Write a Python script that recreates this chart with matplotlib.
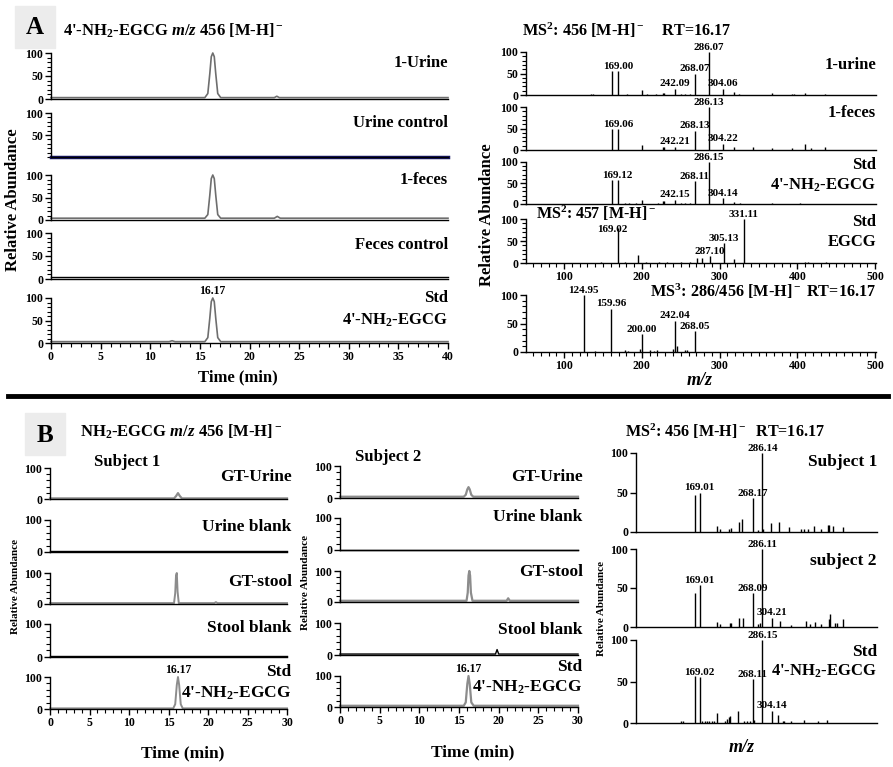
import numpy as np
import matplotlib.pyplot as plt
from matplotlib.lines import Line2D
from matplotlib.patches import Rectangle

plt.rcParams.update({
    'font.family': 'Liberation Serif',
    'font.weight': 'bold',
    'mathtext.fontset': 'custom',
    'mathtext.rm': 'Liberation Serif:bold',
    'mathtext.it': 'Liberation Serif:italic:bold',
    'mathtext.bf': 'Liberation Serif:bold',
    'axes.linewidth': 1.0,
})

########################## Data #############################

# Panel A chromatograms (time in min, relative abundance)
a_rt_urine = [0, 15.5, 15.8, 16.0, 16.15, 16.3, 16.45, 16.6, 16.8, 17.1, 22.5, 22.75, 23.0, 40]
a_ab_urine = [3, 3, 12, 55, 92, 100, 92, 55, 12, 3, 3, 6, 3, 3]
a_rt_urine_ctrl = [0, 40]
a_ab_urine_ctrl = [0, 0]
a_rt_feces = [0, 15.5, 15.8, 16.0, 16.15, 16.3, 16.45, 16.6, 16.8, 17.1, 22.5, 22.8, 23.1, 40]
a_ab_feces = [4, 4, 12, 55, 92, 100, 92, 55, 12, 4, 4, 8, 4, 4]
a_rt_feces_ctrl = [0, 40]
a_ab_feces_ctrl = [5, 5]
a_rt_std = [0, 11.9, 12.2, 12.5, 15.5, 15.8, 16.0, 16.15, 16.3, 16.45, 16.6, 16.8, 17.1, 40]
a_ab_std = [3, 3, 5, 3, 3, 12, 55, 92, 100, 92, 55, 12, 3, 3]

# Panel A spectra (m/z, relative abundance)
ms_urine_mz = [134, 137, 161, 169, 181, 200, 207, 218, 227, 229, 242, 250, 255, 262, 268, 286, 304, 318, 325, 367, 393, 396, 410, 436]
ms_urine_ab = [2, 2, 55, 55, 2, 12, 3, 3, 5, 4, 15, 3, 2, 3, 50, 100, 15, 6, 3, 4, 2, 2, 5, 2]
ms_urine_lab = [(169, '169.00'), (242, '242.09'), (268, '268.07'), (286, '286.07'), (304, '304.06')]

ms_feces_mz = [161, 169, 200, 227, 229, 242, 268, 286, 304, 318, 343, 367, 393, 410, 418, 436]
ms_feces_ab = [48, 48, 11, 6, 8, 8, 45, 100, 15, 8, 6, 4, 5, 15, 5, 8]
ms_feces_lab = [(169, '169.06'), (242, '242.21'), (268, '268.13'), (286, '286.13'), (304, '304.22')]

ms_std_mz = [161, 169, 178, 184, 192, 200, 221, 227, 229, 242, 250, 256, 262, 268, 286, 304, 318, 326, 367, 403]
ms_std_ab = [57, 57, 3, 3, 3, 10, 3, 6, 7, 10, 3, 3, 3, 55, 100, 14, 5, 3, 3, 3]
ms_std_lab = [(169, '169.12'), (242, '242.15'), (268, '268.11'), (286, '286.15'), (304, '304.14')]

ms_egcg_mz = [148, 169, 178, 195, 205, 222, 232, 250, 262, 271, 277, 287, 305, 318, 331, 410, 414, 437]
ms_egcg_ab = [2, 79, 2, 18, 3, 2, 2, 3, 3, 11, 11, 16, 45, 8, 100, 3, 2, 2]
ms_egcg_lab = [(169, '169.02'), (287, '287.10'), (305, '305.13'), (331, '331.11')]

ms3_mz = [125, 140, 160, 178, 182, 197, 200, 210, 215, 220, 240, 242, 245, 255, 258, 268]
ms3_ab = [100, 2, 76, 3, 2, 5, 31, 3, 2, 3, 5, 55, 10, 3, 4, 37]
ms3_lab = [(125, '124.95'), (160, '159.96'), (200, '200.00'), (242, '242.04'), (268, '268.05')]

# Panel B chromatograms
b1_rt_urine = [0, 15.7, 15.95, 16.2, 16.45, 16.7, 30]
b1_ab_urine = [2, 2, 9, 19, 9, 2, 2]
b1_rt_ublank = [0, 30]
b1_ab_ublank = [3, 3]
b1_rt_stool = [0, 15.7, 15.85, 15.95, 16.05, 16.15, 16.3, 20.8, 21.0, 21.2, 30]
b1_ab_stool = [3, 3, 35, 92, 100, 40, 3, 3, 6, 3, 3]
b1_rt_sblank = [0, 30]
b1_ab_sblank = [3, 3]
b1_rt_std = [0, 15.6, 15.85, 16.05, 16.2, 16.35, 16.55, 16.8, 30]
b1_ab_std = [2, 2, 15, 75, 100, 75, 15, 2, 2]

b2_rt_urine = [0, 15.6, 15.85, 16.05, 16.2, 16.35, 16.55, 16.8, 30]
b2_ab_urine = [4, 4, 10, 27, 34, 27, 10, 4, 4]
b2_rt_ublank = [0, 30]
b2_ab_ublank = [1, 1]
b2_rt_stool = [0, 15.95, 16.1, 16.2, 16.3, 16.4, 16.5, 16.7, 21.0, 21.2, 21.4, 30]
b2_ab_stool = [4, 4, 30, 85, 100, 85, 30, 4, 4, 12, 4, 4]
b2_rt_sblank = [0, 19.6, 19.8, 20.0, 30]
b2_ab_sblank = [3, 3, 17, 3, 3]
b2_rt_std = [0, 15.6, 15.85, 16.05, 16.2, 16.35, 16.55, 16.85, 30]
b2_ab_std = [4, 4, 15, 75, 100, 75, 15, 4, 4]

# Panel B spectra
msb_s1_mz = [161, 169, 201, 206, 223, 228, 243, 248, 268, 278, 286, 288, 303, 317, 336, 359, 364, 372, 382, 395, 408, 411, 418, 436]
msb_s1_ab = [47, 50, 8, 4, 4, 5, 13, 16, 43, 3, 100, 4, 12, 13, 6, 4, 4, 4, 8, 4, 9, 9, 8, 6]
msb_s1_lab = [(169, '169.01'), (268, '268.17'), (286, '286.14')]

msb_s2_mz = [160, 169, 201, 206, 225, 227, 243, 249, 268, 278, 282, 286, 304, 319, 340, 367, 374, 385, 396, 410, 413, 421, 425, 437]
msb_s2_ab = [43, 54, 7, 4, 5, 5, 11, 11, 43, 4, 5, 100, 12, 8, 3, 8, 4, 6, 4, 10, 17, 5, 5, 10]
msb_s2_lab = [(169, '169.01'), (268, '268.09'), (286, '286.11'), (304, '304.21')]

msb_std_mz = [134, 138, 161, 169, 174, 178, 182, 187, 192, 196, 201, 216, 219, 223, 226, 241, 252, 257, 262, 268, 271, 286, 304, 316, 324, 326, 340, 364, 390, 407]
msb_std_ab = [3, 3, 57, 55, 2, 2, 2, 2, 2, 2, 12, 3, 5, 7, 9, 15, 3, 3, 3, 53, 4, 100, 15, 10, 3, 3, 2, 4, 2, 4]
msb_std_lab = [(169, '169.02'), (268, '268.11'), (286, '286.15'), (304, '304.14')]

NH2 = "4'-NH$_2$-EGCG"

########################## Figure #############################

W, H = 893, 767
fig = plt.figure(figsize=(W / 100, H / 100), dpi=100)

TICK = 8.5      # tick label size
PEAK = 8        # peak label size
ROW = 12        # sample label size


def add_box(x0, x1, ytop, ybot):
    # axes from pixel positions (top-left origin)
    return fig.add_axes([x0 / W, 1 - ybot / H, (x1 - x0) / W, (ybot - ytop) / H])


def style(ax, ymaj, ymin, xmaj=None, xmin=None):
    for s in ('top', 'right'):
        ax.spines[s].set_visible(False)
    ax.set_yticks(ymaj)
    ax.set_yticks(ymin, minor=True)
    if xmaj is None:
        ax.set_xticks([])
    else:
        ax.set_xticks(xmaj)
        ax.set_xticks(xmin, minor=True)
    ax.tick_params(which='major', length=4, width=1, labelsize=TICK, pad=1.5)
    ax.tick_params(which='minor', length=3, width=0.8)
    ax.patch.set_alpha(0)


def put(ax, txt, x, y, size=ROW, ha='right', **kw):
    ax.text(x, y, txt, transform=ax.transAxes, ha=ha, va='center', fontsize=size, **kw)


def chrom(box, xmax, rt, ab, color, lw, ymaj, ymin, last, xstep_major):
    ax = add_box(*box)
    ax.plot(rt, ab, color=color, lw=lw, clip_on=False)
    ax.set_xlim(0, xmax)
    ax.set_ylim(0, 100)
    if last:
        style(ax, ymaj, ymin, np.arange(0, xmax + 1, xstep_major), np.arange(0, xmax + 1, 1))
    else:
        style(ax, ymaj, ymin)
    return ax


def spectrum(box, mz, ab, labels, xlim, xticks=False, minor_y=True, shift=None):
    ax = add_box(*box)
    ax.vlines(mz, 0, ab, color='k', lw=1.0)
    ax.set_xlim(*xlim)
    ax.set_ylim(0, 100)
    heights = dict(zip(mz, ab))
    shift = shift or {}
    for m, t in labels:
        dx, dy = shift.get(m, (0, 3.5))
        ax.annotate(t, (m, heights[m]), xytext=(dx, dy), textcoords='offset points',
                    ha='center', va='center', fontsize=PEAK, annotation_clip=False)
    ymin = np.arange(0, 101, 10) if minor_y else []
    if xticks:
        style(ax, [0, 50, 100], ymin, np.arange(100, 501, 100), np.arange(60, 501, 10))
    else:
        style(ax, [0, 50, 100], ymin)
    return ax


######################## Panel A, chromatograms ########################
gray_a = '#6e6e6e'
ymin10 = np.arange(0, 101, 10)
ax = chrom((51, 448, 53, 99), 40, a_rt_urine, a_ab_urine, gray_a, 1.2, [0, 50, 100], ymin10, False, 5)
put(ax, '1-Urine', 1.0, 0.78)
ax = chrom((51, 448, 113, 157), 40, a_rt_urine_ctrl, a_ab_urine_ctrl, '#141464', 2.5, [50, 100], ymin10, False, 5)
put(ax, 'Urine control', 1.0, 0.77)
ax = chrom((51, 448, 175, 220), 40, a_rt_feces, a_ab_feces, gray_a, 1.2, [0, 50, 100], ymin10, False, 5)
put(ax, '1-feces', 1.0, 0.89)
ax = chrom((51, 448, 233, 279), 40, a_rt_feces_ctrl, a_ab_feces_ctrl, 'k', 1.0, [0, 50, 100], ymin10, False, 5)
put(ax, 'Feces control', 1.0, 0.74)
ax = chrom((51, 448, 298, 343), 40, a_rt_std, a_ab_std, gray_a, 1.2, [0, 50, 100], ymin10, True, 5)
put(ax, 'Std', 1.0, 1.0)
put(ax, NH2, 1.0, 0.51)
ax.annotate('16.17', (16.2, 100), xytext=(0, 1), textcoords='offset points',
            ha='center', va='bottom', fontsize=8.5, annotation_clip=False)

######################## Panel A, spectra ########################
xl_a = (51, 501)
ax = spectrum((526, 876, 52, 95), ms_urine_mz, ms_urine_ab, ms_urine_lab, xl_a)
put(ax, '1-urine', 1.0, 0.70)
ax = spectrum((526, 876, 107, 150), ms_feces_mz, ms_feces_ab, ms_feces_lab, xl_a)
put(ax, '1-feces', 1.0, 0.86)
ax = spectrum((526, 876, 162, 204), ms_std_mz, ms_std_ab, ms_std_lab, xl_a)
put(ax, 'Std', 1.0, 0.93)
put(ax, NH2, 1.0, 0.45)
ax = spectrum((526, 876, 219, 263), ms_egcg_mz, ms_egcg_ab, ms_egcg_lab, xl_a, xticks=True,
              shift={169: (-4, -1)})
put(ax, 'Std', 1.0, 0.94)
put(ax, 'EGCG', 1.0, 0.48)
put(ax, 'MS$^2$: 457 [M-H]$^-$', 0.03, 1.12, ha='left', size=11.5)
ax = spectrum((526, 876, 295, 352), ms3_mz, ms3_ab, ms3_lab, xl_a, xticks=True)
put(ax, 'MS$^3$: 286/456 [M-H]$^-$ RT=16.17', 1.0, 1.06, size=11.7)

######################## Panel B, chromatograms ########################
gray_b = '#8c8c8c'
yb = [0, 100]
ybm = [20, 40, 60, 80]
b1_rows = [(468, 499), (520, 552), (573, 604), (624, 657), (677, 709)]
b2_rows = [(466, 498), (518, 550), (571, 602), (623, 655), (676, 707)]
b1_data = [(b1_rt_urine, b1_ab_urine, gray_b, 1.6), (b1_rt_ublank, b1_ab_ublank, 'k', 1.0),
           (b1_rt_stool, b1_ab_stool, gray_b, 1.4), (b1_rt_sblank, b1_ab_sblank, 'k', 1.0),
           (b1_rt_std, b1_ab_std, gray_b, 1.4)]
b2_data = [(b2_rt_urine, b2_ab_urine, gray_b, 1.6), (b2_rt_ublank, b2_ab_ublank, 'k', 1.0),
           (b2_rt_stool, b2_ab_stool, gray_b, 1.6), (b2_rt_sblank, b2_ab_sblank, 'k', 1.0),
           (b2_rt_std, b2_ab_std, gray_b, 1.6)]
row_names = ['GT-Urine', 'Urine blank', 'GT-stool', 'Stool blank']
b1_laby = [0.72, 0.79, 0.72, 0.88]
b2_laby = [0.66, 1.03, 0.98, 0.78]

for (x0, x1), rows, data, laby, std_y in [((50, 287), b1_rows, b1_data, b1_laby, (1.17, 0.5)),
                                          ((340, 578), b2_rows, b2_data, b2_laby, (1.3, 0.65))]:
    for i, ((yt, ybt), (rt, ab, c, lw)) in enumerate(zip(rows, data)):
        ax = chrom((x0, x1, yt, ybt), 30, rt, ab, c, lw, yb, ybm, i == 4, 5)
        if i < 4:
            put(ax, row_names[i], 1.02, laby[i], size=12.5)
        else:
            put(ax, 'Std', 1.02, std_y[0], size=12.5)
            put(ax, NH2, 1.02, std_y[1], size=12.5)
            ax.annotate('16.17', (16.2, 100), xytext=(0, 1), textcoords='offset points',
                        ha='center', va='bottom', fontsize=8.5, annotation_clip=False)

######################## Panel B, spectra ########################
xl_b = (50, 500)
ax = spectrum((636, 877, 453, 532), msb_s1_mz, msb_s1_ab, msb_s1_lab, xl_b, minor_y=False)
put(ax, 'Subject 1', 1.0, 0.89, size=12.5)
ax = spectrum((636, 877, 549, 627), msb_s2_mz, msb_s2_ab, msb_s2_lab, xl_b, minor_y=False)
put(ax, 'subject 2', 1.0, 0.84, size=12.5)
ax = spectrum((636, 877, 640, 723), msb_std_mz, msb_std_ab, msb_std_lab, xl_b, minor_y=False)
put(ax, 'Std', 1.0, 0.86, size=12.5)
put(ax, NH2, 1.0, 0.62, size=12)


######################## Figure texts ########################
def ftext(x, y, s, size, **kw):
    fig.text(x / W, 1 - y / H, s, fontsize=size, **kw)


fig.add_artist(Rectangle((15 / W, 1 - 48 / H), 40 / W, 42 / H, transform=fig.transFigure,
                         color='#ececec', zorder=0))
fig.add_artist(Rectangle((25 / W, 1 - 455 / H), 40 / W, 42 / H, transform=fig.transFigure,
                         color='#ececec', zorder=0))
ftext(35, 28, 'A', 18, ha='center', va='center')
ftext(45, 435, 'B', 18, ha='center', va='center')

ftext(63, 31, "4'-NH$_2$-EGCG $m/z$ 456 [M-H]$^-$", 12, va='center')
ftext(80, 432, "NH$_2$-EGCG $m/z$ 456 [M-H]$^-$", 12, va='center')
ftext(522, 30, "MS$^2$: 456 [M-H]$^-$    RT=16.17", 11.7, va='center')
ftext(625, 431, "MS$^2$: 456 [M-H]$^-$  RT=16.17", 11.6, va='center')

ftext(13, 200, 'Relative Abundance', 12, rotation=90, ha='center', va='center')
ftext(487, 215, 'Relative Abundance', 12, rotation=90, ha='center', va='center')
ftext(16, 587, 'Relative Abundance', 8, rotation=90, ha='center', va='center')
ftext(305, 582, 'Relative Abundance', 8, rotation=90, ha='center', va='center')
ftext(602, 608, 'Relative Abundance', 8, rotation=90, ha='center', va='center')

ftext(238, 377, 'Time (min)', 12, ha='center', va='center')
ftext(183, 753, 'Time (min)', 12.5, ha='center', va='center')
ftext(473, 752, 'Time (min)', 12.5, ha='center', va='center')
ftext(700, 380, 'm/z', 13, ha='center', va='center', style='italic')
ftext(742, 748, 'm/z', 13, ha='center', va='center', style='italic')

ftext(127, 462, 'Subject 1', 12, ha='center', va='center')
ftext(388, 457, 'Subject 2', 12, ha='center', va='center')

fig.add_artist(Line2D([8 / W, 888 / W], [1 - 396 / H, 1 - 396 / H], lw=3.5, color='k',
                      transform=fig.transFigure))

fig.savefig('out.png', dpi=100)
